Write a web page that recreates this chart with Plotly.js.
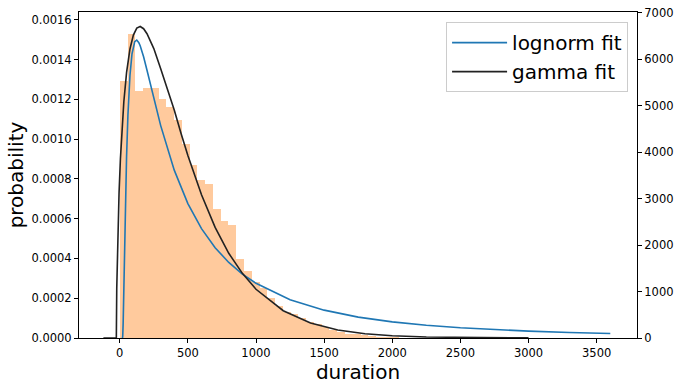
<!DOCTYPE html>
<html>
<head>
<meta charset="utf-8">
<script src="https://cdn.plot.ly/plotly-3.0.1.min.js"></script>
<style>html,body{margin:0;padding:0;background:#fff}#chart{width:681px;height:388px}</style>
</head>
<body>
<div id="chart"></div>
<script>
// Histogram of durations (counts, right axis)
const binStart = 0;
const binWidth = 57;
const histCounts = [5521, 6548, 5305, 5385, 5385, 5133, 4961, 4681, 4179, 3726,
  3403, 3324, 2779, 2520, 2434, 1702, 1443, 1206, 1077, 868,
  689, 567, 510, 438, 355, 310, 230, 180, 130, 95,
  80, 65, 35, 28, 20, 15, 10, 7, 5];

// lognorm fit (probability, left axis)
const lognormX = [20, 22, 25, 30, 35, 40, 50, 60, 75, 90, 100, 110, 125, 140, 150, 175, 200, 250, 300, 400, 500, 600, 700, 800, 900, 1000, 1250, 1500, 1750, 2000, 2250, 2500, 2750, 3000, 3300, 3600];
const lognormY = [0, 0.0000089, 0.0000734, 0.00025, 0.000443, 0.000621, 0.000911, 0.00112, 0.00132, 0.001429, 0.001469, 0.00149, 0.001498, 0.001485, 0.001469, 0.001414, 0.001346, 0.001203, 0.001069, 0.000844, 0.000676, 0.00055, 0.000454, 0.00038, 0.000321, 0.000275, 0.000192, 0.00014, 0.000105, 0.0000811, 0.0000639, 0.0000512, 0.0000417, 0.0000344, 0.0000276, 0.0000225];

// gamma fit (probability, left axis)
const gammaX = [-120, -25, -22, -19, -15, -5, 5, 15, 30, 50, 75, 100, 125, 150, 175, 200, 250, 300, 350, 400, 450, 500, 600, 700, 800, 900, 1000, 1200, 1400, 1600, 1800, 2000, 2250, 2500, 2750, 3000];
const gammaY = [0, 0, 0.00025, 0.000373, 0.000499, 0.000732, 0.000901, 0.001034, 0.001188, 0.001334, 0.001453, 0.001523, 0.001558, 0.001566, 0.001555, 0.00153, 0.001455, 0.001355, 0.001255, 0.001146, 0.001028, 0.000918, 0.00072, 0.000556, 0.000426, 0.000325, 0.000245, 0.000137, 0.000075, 0.00004, 0.0000215, 0.0000112, 0.000005, 0.0000022, 0.000001, 0.0000004];

const probTicks = [0, 0.0002, 0.0004, 0.0006, 0.0008, 0.0010, 0.0012, 0.0014, 0.0016];
const countTicks = [0, 1000, 2000, 3000, 4000, 5000, 6000, 7000];
const durationTicks = [0, 500, 1000, 1500, 2000, 2500, 3000, 3500];

const histX = histCounts.map((_, i) => binStart + (i + 0.5) * binWidth);

const font = {family: 'DejaVu Sans, sans-serif', color: '#000'};

const traces = [
  {type: 'bar', x: histX, y: histCounts, width: binWidth, yaxis: 'y', xaxis: 'x',
   marker: {color: '#FFCA9D', line: {width: 0}}, showlegend: false, hoverinfo: 'skip'},
  {type: 'scatter', mode: 'lines', x: lognormX, y: lognormY, yaxis: 'y2', name: 'lognorm fit',
   line: {color: '#1f77b4', width: 1.6}},
  {type: 'scatter', mode: 'lines', x: gammaX, y: gammaY, yaxis: 'y2', name: 'gamma fit',
   line: {color: '#222222', width: 1.6}}
];

const axisCommon = {
  showgrid: false, zeroline: false, showline: true, linecolor: '#000', linewidth: 1,
  ticks: 'outside', ticklen: 4, tickwidth: 1, tickcolor: '#000',
  tickfont: Object.assign({size: 11.5}, font)
};

const layout = {
  width: 681, height: 388,
  margin: {l: 79, r: 44, t: 12, b: 50, pad: 0},
  paper_bgcolor: '#fff', plot_bgcolor: '#fff',
  font: font,
  bargap: 0,
  xaxis: Object.assign({}, axisCommon, {
    range: [-299, 3796], tickvals: durationTicks, mirror: true,
    title: {text: 'duration', font: Object.assign({size: 20}, font), standoff: 5}
  }),
  yaxis: Object.assign({}, axisCommon, {
    side: 'right', range: [0, 7015], tickvals: countTicks, mirror: true
  }),
  yaxis2: Object.assign({}, axisCommon, {
    overlaying: 'y', side: 'left', range: [0, 0.001639], tickvals: probTicks,
    tickformat: '.4f',
    title: {text: 'probability', font: Object.assign({size: 20}, font), standoff: 2}
  }),
  legend: {
    x: 0.984, xanchor: 'right', y: 0.969, yanchor: 'top',
    bgcolor: 'rgba(255,255,255,0.8)', bordercolor: '#cccccc', borderwidth: 1,
    font: Object.assign({size: 20}, font), tracegroupgap: 0, itemwidth: 55
  },
  showlegend: true
};

Plotly.newPlot('chart', traces, layout, {displayModeBar: false, staticPlot: true});
</script>
</body>
</html>
